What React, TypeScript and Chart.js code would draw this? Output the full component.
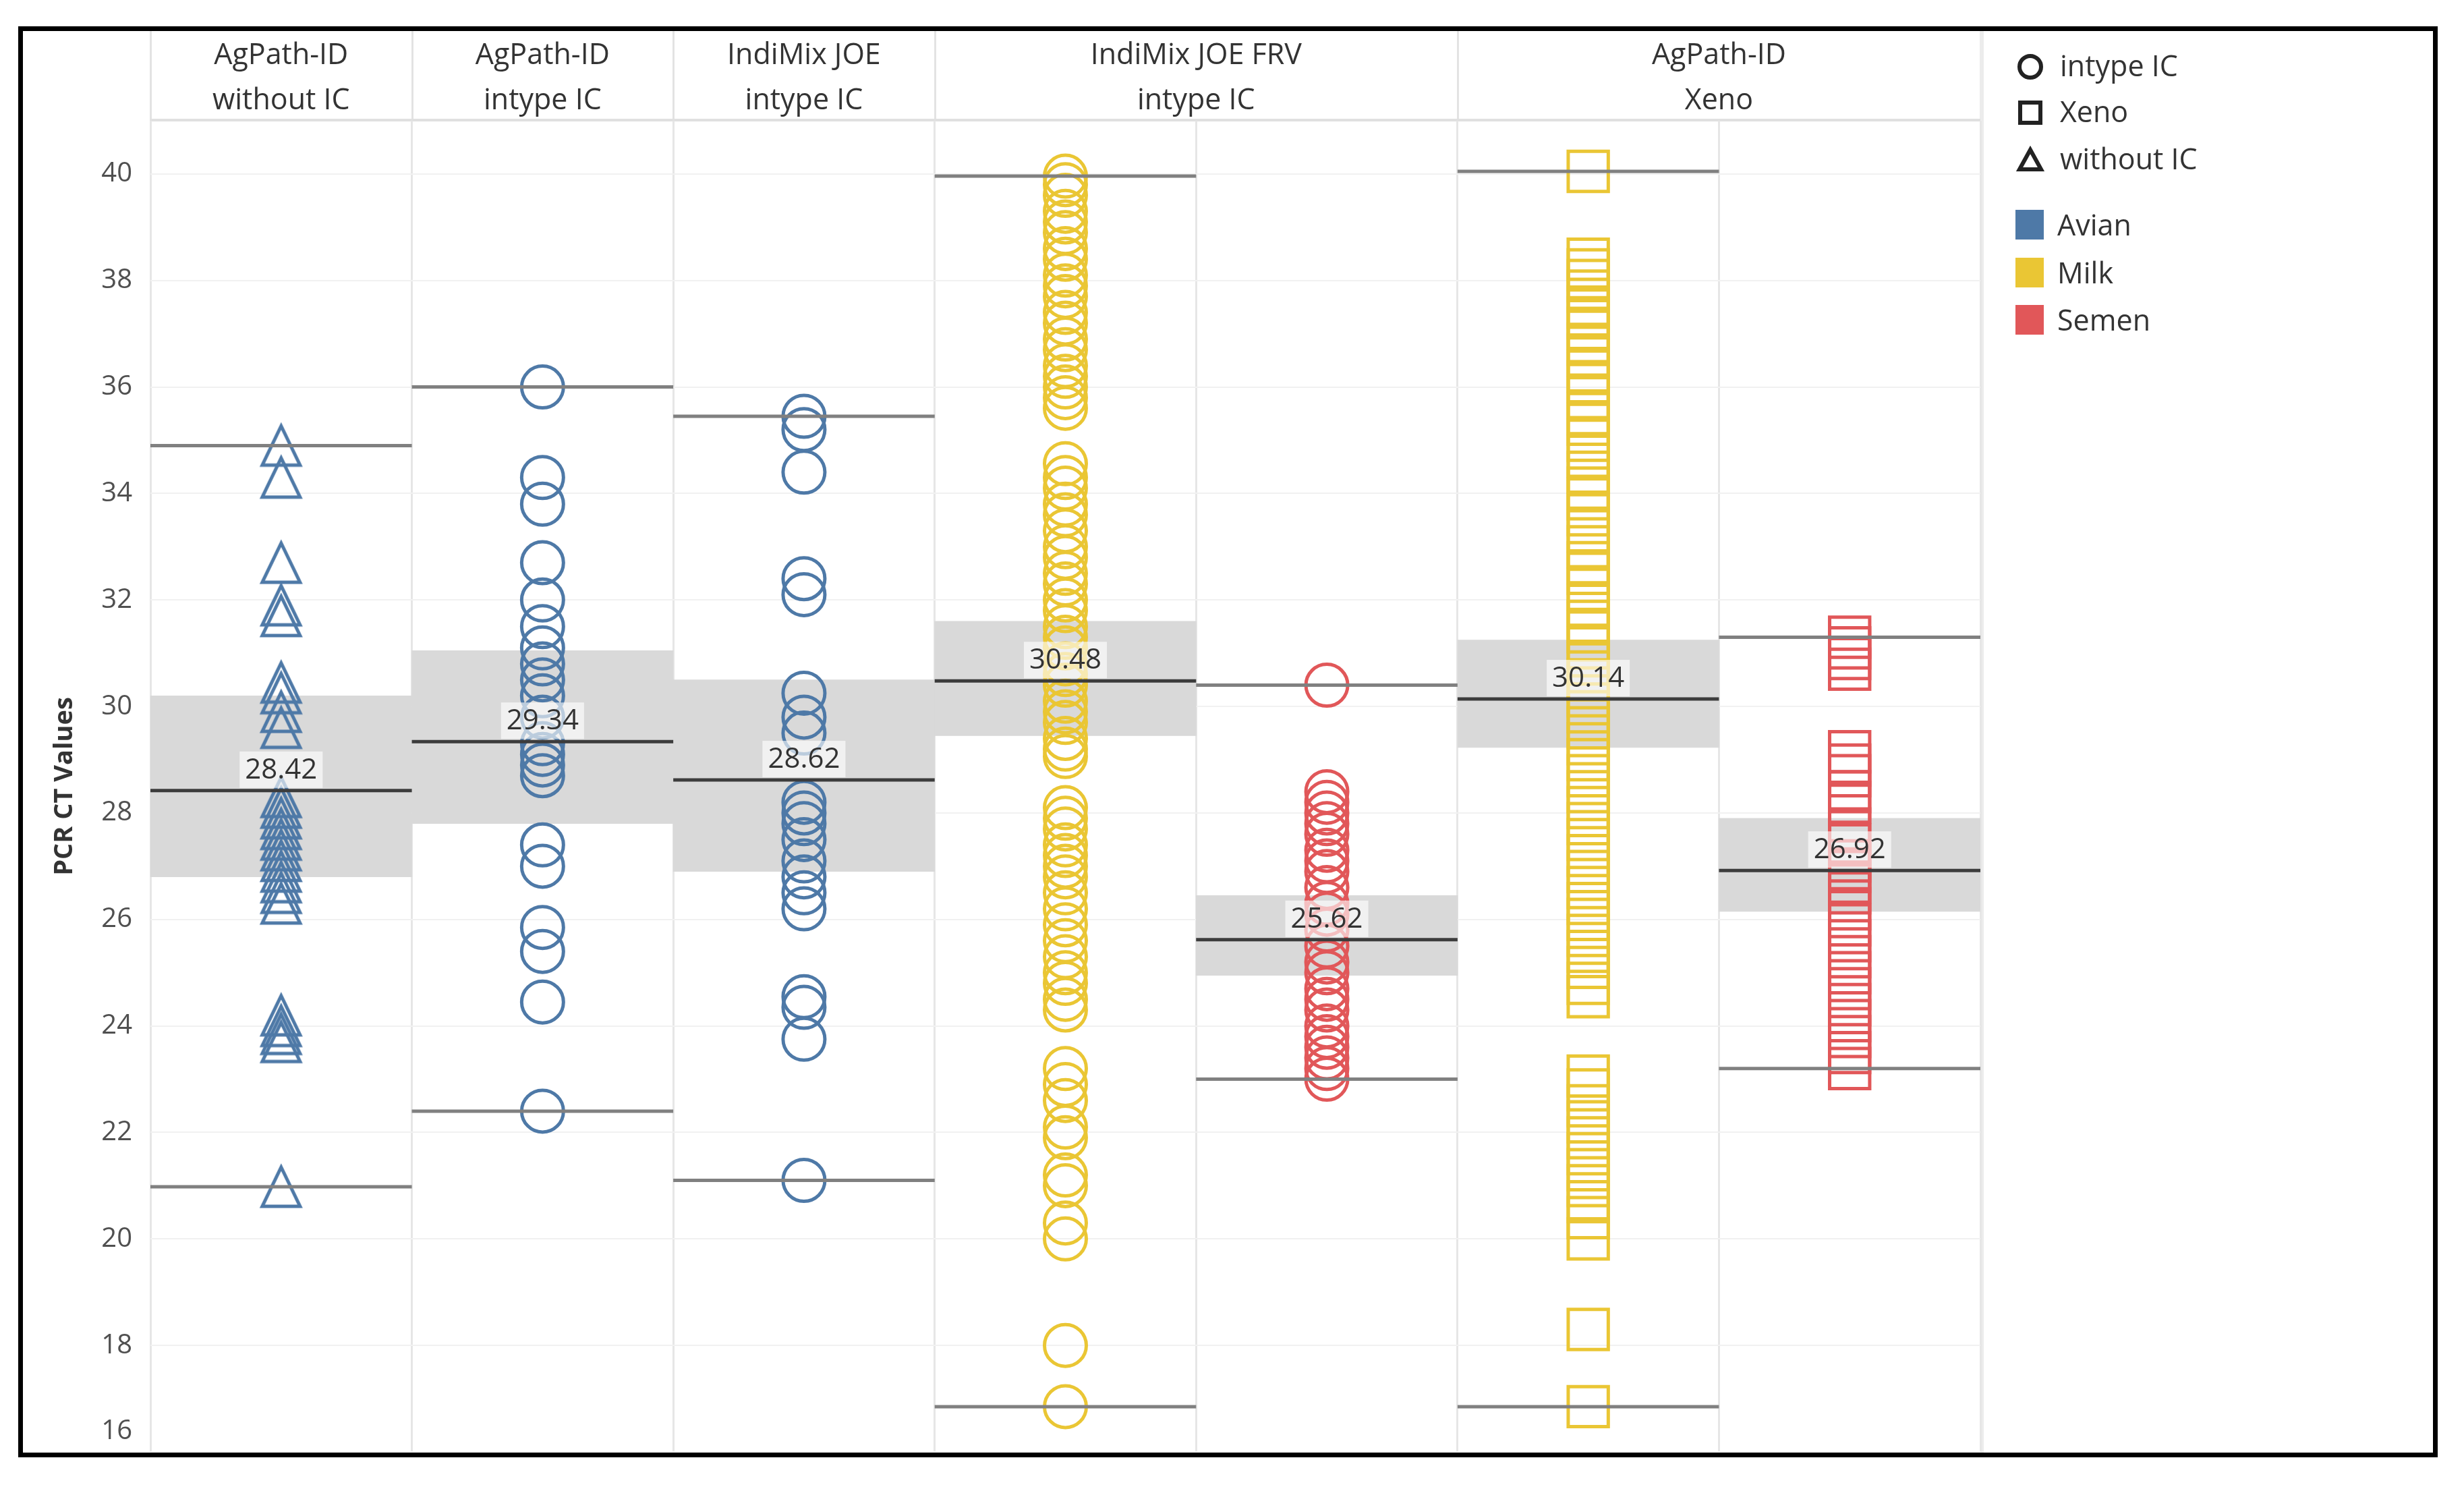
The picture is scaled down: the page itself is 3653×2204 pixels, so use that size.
import React, { useEffect, useRef } from "react";
import { Chart, registerables } from "chart.js";
Chart.register(...registerables);

const W = 3653;
const H = 2204;
const FONT = "'Open Sans', 'Noto Sans', sans-serif";

// ---------- data ----------
const subColumns = [
  "AgPath-ID without IC | Avian",
  "AgPath-ID intype IC | Avian",
  "IndiMix JOE intype IC | Avian",
  "IndiMix JOE FRV intype IC | Milk",
  "IndiMix JOE FRV intype IC | Semen",
  "AgPath-ID Xeno | Milk",
  "AgPath-ID Xeno | Semen",
];
const sampleTypes = ["Avian", "Avian", "Avian", "Milk", "Semen", "Milk", "Semen"];
const icTypes = ["without IC", "intype IC", "intype IC", "intype IC", "intype IC", "Xeno", "Xeno"];

const headerLine1 = ["AgPath-ID", "AgPath-ID", "IndiMix JOE", "IndiMix JOE FRV", "AgPath-ID"];
const headerLine2 = ["without IC", "intype IC", "intype IC", "intype IC", "Xeno"];
const headerStart = [0, 1, 2, 3, 5];
const headerSpan = [1, 1, 1, 2, 2];

const yTicks = [16, 18, 20, 22, 24, 26, 28, 30, 32, 34, 36, 38, 40];
const yTitle = "PCR CT Values";

const ctAgPathWithoutIC = [34.9, 34.3, 32.7, 31.9, 31.7, 30.45, 30.25, 29.9, 29.6, 28.3, 28.1, 27.9, 27.7, 27.5, 27.3, 27.1, 26.9, 26.7, 26.5, 26.3, 24.2, 24.0, 23.85, 23.7, 20.98];
const ctAgPathIntypeIC = [36.0, 34.3, 33.8, 32.7, 32.0, 31.5, 31.1, 30.8, 30.5, 30.2, 29.8, 29.3, 29.1, 28.9, 28.7, 27.4, 27.0, 25.85, 25.4, 24.45, 22.4];
const ctIndiMixIntypeIC = [35.45, 35.2, 34.4, 32.4, 32.1, 30.25, 29.8, 29.5, 28.2, 28.0, 27.8, 27.5, 27.1, 26.8, 26.5, 26.2, 24.55, 24.35, 23.75, 21.1];
const ctFrvMilk = [
  39.96, 39.8, 39.6, 39.3, 39.1, 38.9, 38.6, 38.4, 38.1, 37.9, 37.7, 37.4, 37.2, 36.9, 36.7, 36.4, 36.2, 36.0, 35.8, 35.6,
  34.56, 34.3, 34.1, 33.8, 33.6, 33.3, 33.0, 32.8, 32.5, 32.3, 32.0, 31.8, 31.5, 31.3, 31.1, 30.8, 30.6, 30.4, 30.1, 29.9, 29.7, 29.4, 29.2, 29.06,
  28.1, 27.9, 27.7, 27.4, 27.2, 27.0, 26.8, 26.5, 26.2, 25.9, 25.6, 25.3, 25.0, 24.8, 24.5, 24.3,
  23.2, 22.9, 22.6, 22.1, 21.9, 21.2, 21.0, 20.3, 20.0,
  18.0, 16.85,
];
const ctFrvSemen = [30.4, 28.4, 28.2, 28.0, 27.8, 27.6, 27.3, 27.1, 26.9, 26.6, 26.3, 26.1, 25.8, 25.5, 25.2, 25.0, 24.7, 24.5, 24.3, 24.0, 23.8, 23.6, 23.4, 23.2, 23.0];
const ctXenoMilk = [
  40.05,
  38.4, 38.2, 38.0, 37.8, 37.5, 37.3, 37.1, 36.8, 36.6, 36.3, 36.1, 35.8, 35.5, 35.3, 35.0, 34.7, 34.4, 34.1, 33.9, 33.6, 33.3, 33.0, 32.7, 32.5, 32.2,
  31.9, 31.6, 31.4, 31.1, 30.8, 30.5, 30.2, 29.9, 29.6, 29.3, 29.0, 28.7, 28.4, 28.1, 27.8, 27.5, 27.2, 26.9, 26.6, 26.3, 26.0, 25.7, 25.4, 25.1, 24.8, 24.55,
  23.06, 22.8, 22.5, 22.2, 21.9, 21.6, 21.3, 21.0, 20.7, 20.4, 20.0,
  18.3, 16.85,
];
const ctXenoSemen = [31.3, 31.1, 30.9, 30.7, 29.15, 28.9, 28.7, 28.4, 28.2, 27.7, 27.4, 27.1, 26.9, 26.7, 26.5, 26.2, 25.9, 25.6, 25.3, 25.0, 24.7, 24.4, 24.1, 23.8, 23.5, 23.2];

const seriesValues = [ctAgPathWithoutIC, ctAgPathIntypeIC, ctIndiMixIntypeIC, ctFrvMilk, ctFrvSemen, ctXenoMilk, ctXenoSemen];

const maxLine = [34.9, 36.0, 35.45, 39.96, 30.4, 40.05, 31.3];
const minLine = [20.98, 22.4, 21.1, 16.85, 23.0, 16.85, 23.2];
const medianLine = [28.42, 29.34, 28.62, 30.48, 25.62, 30.14, 26.92];
const bandLow = [26.8, 27.8, 26.9, 29.45, 24.95, 29.23, 26.15];
const bandHigh = [30.2, 31.05, 30.5, 31.6, 26.45, 31.25, 27.9];

const shapeLegend = ["intype IC", "Xeno", "without IC"];
const colorLegend = ["Avian", "Milk", "Semen"];
const colorOf: Record<string, string> = { Avian: "#4e79a7", Milk: "#eac634", Semen: "#e15759" };

// ---------- helpers ----------
function makeTriangle(color: string) {
  const w = 56, h = 58, lw = 5, m = 10;
  const c = document.createElement("canvas");
  c.width = w + 2 * m;
  c.height = h + 2 * m;
  const g = c.getContext("2d")!;
  g.strokeStyle = color;
  g.lineWidth = lw;
  g.lineJoin = "miter";
  g.beginPath();
  g.moveTo(c.width / 2, m);
  g.lineTo(m + w, m + h);
  g.lineTo(m, m + h);
  g.closePath();
  g.stroke();
  return c;
}

function pointStyleFor(ic: string, color: string): any {
  if (ic === "without IC") return makeTriangle(color);
  if (ic === "Xeno") return "rect";
  return "circle";
}

const LEFT = 223, RIGHT = 2936, TOP = 179, BOTTOM = 2152;
const FRAME_TOP = 46, FRAME_BOTTOM = 2153;

const decor = {
  id: "decor",
  beforeDraw(chart: any) {
    const { ctx } = chart;
    const x = chart.scales.x;
    ctx.save();
    ctx.fillStyle = "#ffffff";
    ctx.fillRect(0, 0, W, H);
    const half = x.width / subColumns.length / 2;
    // header vertical dividers
    ctx.strokeStyle = "#e3e3e3";
    ctx.lineWidth = 3;
    const bounds = new Set<number>();
    headerStart.forEach((s, i) => {
      bounds.add(s);
      bounds.add(s + headerSpan[i]);
    });
    bounds.forEach((b) => {
      const px = Math.round(x.getPixelForValue(b) - half) + 0.5;
      ctx.beginPath();
      ctx.moveTo(px, FRAME_TOP);
      ctx.lineTo(px, TOP);
      ctx.stroke();
    });
    // legend divider
    ctx.strokeStyle = "#ececec";
    ctx.lineWidth = 6;
    ctx.beginPath();
    ctx.moveTo(RIGHT + 2, FRAME_TOP);
    ctx.lineTo(RIGHT + 2, FRAME_BOTTOM);
    ctx.stroke();
    // header bottom line
    ctx.strokeStyle = "#e0e0e0";
    ctx.lineWidth = 4;
    ctx.beginPath();
    ctx.moveTo(LEFT, TOP - 1);
    ctx.lineTo(RIGHT, TOP - 1);
    ctx.stroke();
    // header texts
    ctx.fillStyle = "#333333";
    ctx.font = `43px ${FONT}`;
    ctx.textAlign = "center";
    ctx.textBaseline = "middle";
    headerStart.forEach((s, i) => {
      const l = x.getPixelForValue(s) - half;
      const r = x.getPixelForValue(s + headerSpan[i] - 1) + half;
      const cx = (l + r) / 2;
      ctx.fillText(headerLine1[i], cx, 83);
      ctx.fillText(headerLine2[i], cx, 150);
    });
    ctx.restore();
  },
  afterDatasetsDraw(chart: any) {
    const { ctx } = chart;
    const x = chart.scales.x;
    const y = chart.scales.y;
    const half = x.width / subColumns.length / 2;
    ctx.save();
    subColumns.forEach((_, i) => {
      const cx = x.getPixelForValue(i);
      const l = cx - half, r = cx + half;
      const hl = (v: number, color: string, lw: number) => {
        const py = y.getPixelForValue(v);
        ctx.strokeStyle = color;
        ctx.lineWidth = lw;
        ctx.beginPath();
        ctx.moveTo(l, py);
        ctx.lineTo(r, py);
        ctx.stroke();
      };
      hl(maxLine[i], "#808080", 5);
      hl(minLine[i], "#808080", 5);
      hl(medianLine[i], "#3c3c3c", 5);
      // median label
      const py = y.getPixelForValue(medianLine[i]);
      const txt = medianLine[i].toFixed(2);
      ctx.font = `42px ${FONT}`;
      const tw = ctx.measureText(txt).width;
      ctx.fillStyle = "rgba(255,255,255,0.62)";
      ctx.fillRect(cx - tw / 2 - 8, py - 58, tw + 16, 54);
      ctx.fillStyle = "#333333";
      ctx.textAlign = "center";
      ctx.textBaseline = "middle";
      ctx.fillText(txt, cx, py - 30);
    });
    ctx.restore();
  },
  afterDraw(chart: any) {
    const { ctx } = chart;
    const y = chart.scales.y;
    ctx.save();
    // y tick labels
    ctx.fillStyle = "#505050";
    ctx.font = `40px ${FONT}`;
    ctx.textAlign = "right";
    ctx.textBaseline = "middle";
    yTicks.forEach((v) => {
      const py = Math.min(y.getPixelForValue(v), BOTTOM - 30);
      ctx.fillText(String(v), 196, py);
    });
    // y title
    ctx.save();
    ctx.translate(96, (TOP + BOTTOM) / 2);
    ctx.rotate(-Math.PI / 2);
    ctx.font = `bold 38px ${FONT}`;
    ctx.fillStyle = "#333333";
    ctx.textAlign = "center";
    ctx.fillText(yTitle, 0, 0);
    ctx.restore();
    // shape legend
    const sx = 3010;
    const sy = [99, 167, 237];
    ctx.strokeStyle = "#222222";
    ctx.lineWidth = 6;
    ctx.beginPath();
    ctx.arc(sx, sy[0], 16, 0, Math.PI * 2);
    ctx.stroke();
    ctx.strokeRect(sx - 15, sy[1] - 15, 30, 30);
    ctx.beginPath();
    ctx.moveTo(sx, sy[2] - 15);
    ctx.lineTo(sx + 16, sy[2] + 14);
    ctx.lineTo(sx - 16, sy[2] + 14);
    ctx.closePath();
    ctx.stroke();
    ctx.fillStyle = "#333333";
    ctx.font = `43px ${FONT}`;
    ctx.textAlign = "left";
    ctx.textBaseline = "middle";
    shapeLegend.forEach((t, i) => ctx.fillText(t, 3054, sy[i] + 2));
    // color legend
    const cy = [333, 404, 474];
    colorLegend.forEach((t, i) => {
      ctx.fillStyle = colorOf[t];
      ctx.fillRect(2988, cy[i] - 22, 42, 44);
      ctx.fillStyle = "#333333";
      ctx.fillText(t, 3050, cy[i] + 4);
    });
    ctx.restore();
  },
};

export default function App() {
  const ref = useRef<HTMLCanvasElement | null>(null);
  useEffect(() => {
    if (!ref.current) return;
    const pointSets: any[] = seriesValues.map((vals, i) => {
      const color = colorOf[sampleTypes[i]];
      const ic = icTypes[i];
      return {
        type: "line",
        label: subColumns[i],
        data: vals.map((v) => ({ x: subColumns[i], y: v })),
        showLine: false,
        pointStyle: pointStyleFor(ic, color),
        pointRadius: ic === "Xeno" ? 42 : 31,
        pointBorderWidth: 5,
        pointBorderColor: color,
        pointBackgroundColor: "rgba(255,255,255,0)",
        borderColor: color,
        backgroundColor: "rgba(255,255,255,0)",
        order: 1,
        clip: false,
      };
    });
    const band: any = {
      type: "bar",
      label: "band",
      data: bandLow.map((l, i) => [l, bandHigh[i]]),
      backgroundColor: "#d9d9d9",
      borderWidth: 0,
      barPercentage: 1,
      categoryPercentage: 1,
      order: 10,
    };
    const chart = new Chart(ref.current, {
      type: "bar",
      data: { labels: subColumns, datasets: [band, ...pointSets] },
      options: {
        animation: false,
        responsive: false,
        devicePixelRatio: 1,
        layout: { padding: { left: LEFT, right: W - RIGHT, top: TOP, bottom: H - BOTTOM } },
        plugins: { legend: { display: false }, tooltip: { enabled: false } },
        scales: {
          x: {
            type: "category",
            offset: true,
            grid: { offset: true, color: "#e6e6e6", lineWidth: 3, drawTicks: false },
            border: { display: false },
            ticks: { display: false },
          },
          y: {
            min: 16,
            max: 41,
            afterBuildTicks: (s: any) => {
              s.ticks = yTicks.map((v) => ({ value: v }));
            },
            grid: { color: "#f1f1f1", lineWidth: 2, drawTicks: false },
            border: { display: false },
            ticks: { display: false },
          },
        },
      } as any,
      plugins: [decor],
    });
    return () => chart.destroy();
  }, []);
  return (
    <div style={{ position: "fixed", left: 0, top: 0, width: W, height: H, background: "#fff" }}>
      <canvas ref={ref} width={W} height={H} style={{ width: W, height: H, display: "block" }} />
      <div
        style={{
          position: "absolute",
          left: 27,
          top: 39,
          width: 3587,
          height: 2121,
          border: "7px solid #000",
          boxSizing: "border-box",
          pointerEvents: "none",
        }}
      />
    </div>
  );
}
